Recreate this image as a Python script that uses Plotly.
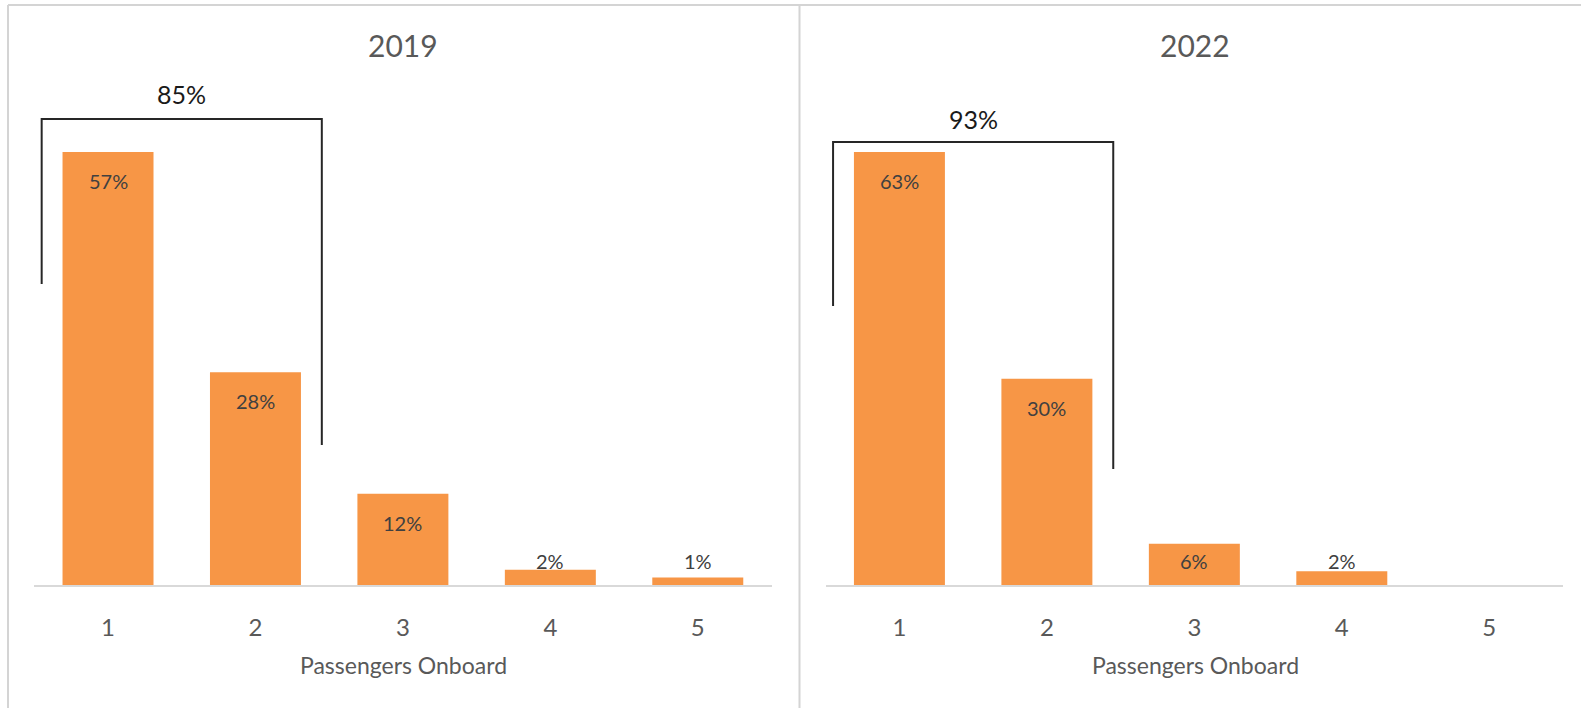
import plotly.graph_objects as go

# ---------------- data ----------------
categories = [1, 2, 3, 4, 5]
tick_labels = ["1", "2", "3", "4", "5"]
years = ["2019", "2022"]
share_2019 = [0.57, 0.28, 0.12, 0.02, 0.01]
share_2022 = [0.63, 0.30, 0.06, 0.02, 0.0]
bracket_cats = [1, 2]          # categories grouped by the bracket
x_title = "Passengers Onboard"

# ---------------- style / layout ----------------
W, H = 1581, 708
FONT = "Lato, 'Open Sans', Arial, sans-serif"
BAR = "#F79646"
GRID = "#D9D9D9"
FRAME = "#D4D4D4"
BASE_PX = 585            # baseline pixel row
TOP_PX = 60              # top of plot area pixel row
PLOT_H = BASE_PX - TOP_PX
PANEL_X = [(34.3, 771.5), (825.7, 1563.0)]   # pixel spans of the two category axes
TITLE_X = [403, 1195]
# y-range per panel (units) -- chosen so the tallest bars reach the same height
RANGES = [0.6911, 0.7638]
# bracket geometry in pixel rows: (top, left end, right end, label)
BRACKET_PX = [(119, 284, 445, 94), (142, 306, 469, 119)]
BRACKET_HALF = 0.45

series = [share_2019, share_2022]

fig = go.Figure()
for i, (yr, vals) in enumerate(zip(years, series)):
    xa = "x" if i == 0 else "x2"
    ya = "y" if i == 0 else "y2"
    fig.add_trace(go.Bar(
        x=categories, y=vals, xaxis=xa, yaxis=ya,
        marker=dict(color=BAR, line=dict(width=0)),
        width=0.617, showlegend=False, hoverinfo="skip"))

    R = RANGES[i]
    u = R / PLOT_H  # units per pixel
    # data labels (inside end, clamped near the baseline)
    for c, v in zip(categories, vals):
        if v <= 0:
            continue
        ly = max(v - 29 * u, 24 * u)
        fig.add_annotation(x=c, y=ly, xref=xa, yref=ya, text=f"{round(v*100)}%",
                           showarrow=False, xanchor="center", yanchor="middle",
                           font=dict(family=FONT, size=20, color="#404040"))

    # bracket
    top, lb, rb, lab = BRACKET_PX[i]
    to_u = lambda p: (BASE_PX - p) * u
    xl = bracket_cats[0] - BRACKET_HALF
    xr = bracket_cats[-1] + BRACKET_HALF
    fig.add_shape(type="path", xref=xa, yref=ya,
                  path=f"M {xl} {to_u(lb)} L {xl} {to_u(top)} L {xr} {to_u(top)} L {xr} {to_u(rb)}",
                  line=dict(color="#262626", width=2))
    total = sum(v for c, v in zip(categories, vals) if c in bracket_cats)
    fig.add_annotation(x=(xl + xr) / 2, y=to_u(lab), xref=xa, yref=ya,
                       text=f"{round(total*100)}%", showarrow=False,
                       xanchor="center", yanchor="middle",
                       font=dict(family=FONT, size=25, color="#1a1a1a"))

    # panel title
    fig.add_annotation(x=TITLE_X[i] / W, y=1 - 45 / H, xref="paper", yref="paper",
                       text=yr, showarrow=False, xanchor="center", yanchor="middle",
                       font=dict(family=FONT, size=30, color="#595959"))
    # axis title
    fig.add_annotation(x=TITLE_X[i] / W, y=1 - 665 / H, xref="paper", yref="paper",
                       text=x_title, showarrow=False, xanchor="center", yanchor="middle",
                       font=dict(family=FONT, size=23, color="#595959"))

xaxis_common = dict(range=[0.5, 5.5], tickvals=categories, ticktext=tick_labels,
                    showgrid=False, zeroline=False, showline=True, linecolor=GRID,
                    linewidth=1.5, ticks="outside", ticklen=20, tickcolor="rgba(0,0,0,0)",
                    tickfont=dict(family=FONT, size=24, color="#595959"), fixedrange=True)
yaxis_common = dict(showgrid=False, zeroline=False, showticklabels=False,
                    showline=False, fixedrange=True)

ydom = [1 - BASE_PX / H, 1 - TOP_PX / H]
fig.update_layout(
    width=W, height=H, margin=dict(l=0, r=0, t=0, b=0),
    paper_bgcolor="white", plot_bgcolor="white",
    bargap=0.383,
    xaxis=dict(domain=[PANEL_X[0][0] / W, PANEL_X[0][1] / W], anchor="y", **xaxis_common),
    xaxis2=dict(domain=[PANEL_X[1][0] / W, PANEL_X[1][1] / W], anchor="y2", **xaxis_common),
    yaxis=dict(domain=ydom, range=[0, RANGES[0]], anchor="x", **yaxis_common),
    yaxis2=dict(domain=ydom, range=[0, RANGES[1]], anchor="x2", **yaxis_common),
)

# outer frame and divider
for x0, y0, x1, y1 in [(8, 5, W, 5), (8, 5, 8, H), (799.5, 5, 799.5, H)]:
    fig.add_shape(type="line", xref="paper", yref="paper",
                  x0=x0 / W, x1=x1 / W, y0=1 - y0 / H, y1=1 - y1 / H,
                  line=dict(color=FRAME, width=2))

fig.write_html("out.html", config={"displayModeBar": False},
               post_script="document.body.style.margin='0';document.body.style.overflow='hidden';")
